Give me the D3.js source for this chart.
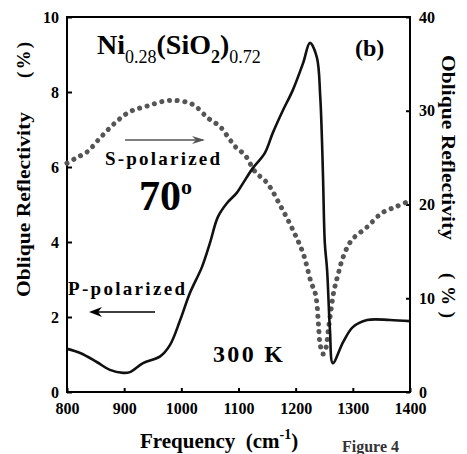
<!DOCTYPE html>
<html>
<head>
<meta charset="utf-8">
<script src="https://cdn.jsdelivr.net/npm/d3@7"></script>
<style>
  body { margin: 0; background: #fff; }
  svg text { font-family: "Liberation Serif", "DejaVu Serif", serif; font-weight: bold; }
</style>
</head>
<body>
<div id="chart"></div>
<script>
// P-polarized, left axis (%)
var pFreq = [800, 823, 852, 875, 898, 910, 933, 963, 980, 998, 1015, 1036, 1050, 1064, 1080, 1097, 1108, 1125, 1146, 1160, 1178, 1195, 1213, 1225, 1237, 1243, 1246, 1248, 1251, 1255, 1260, 1265, 1283, 1300, 1325, 1365, 1400];
var pVal  = [1.15, 1.04, 0.80, 0.59, 0.51, 0.53, 0.77, 0.95, 1.25, 1.92, 2.64, 3.33, 3.97, 4.67, 5.04, 5.31, 5.57, 5.97, 6.37, 6.91, 7.52, 8.05, 8.77, 9.31, 8.93, 7.87, 6.72, 5.65, 3.97, 3.25, 1.65, 0.77, 1.33, 1.73, 1.92, 1.92, 1.89];
// S-polarized, right axis (%)
var sFreq = [800, 817, 835, 858, 884, 910, 940, 980, 1019, 1047, 1068, 1085, 1097, 1111, 1129, 1150, 1173, 1195, 1213, 1227, 1234, 1237, 1240, 1243, 1248, 1253, 1257, 1262, 1267, 1274, 1283, 1298, 1325, 1351, 1377, 1400];
var sVal  = [24.4, 25.0, 25.6, 27.1, 28.7, 29.9, 30.5, 31.1, 30.7, 29.2, 28.3, 26.9, 26.0, 25.3, 23.5, 22.3, 19.9, 17.3, 14.8, 11.7, 10.6, 9.5, 7.1, 5.0, 4.05, 4.7, 6.6, 8.8, 10.8, 12.5, 14.4, 16.2, 17.6, 19.1, 19.8, 20.4];

var xTicks = [800, 900, 1000, 1100, 1200, 1300, 1400];
var yLeftTicks = [0, 2, 4, 6, 8, 10];
var yRightTicks = [0, 10, 20, 30, 40];

var W = 467, H = 454;
var margin = {top: 17, right: 57, bottom: 62, left: 67},
  width = W - margin.left - margin.right,
  height = H - margin.top - margin.bottom;

var svg = d3.select("#chart")
  .append("svg")
  .attr("width", W)
  .attr("height", H);

var g = svg.append("g")
  .attr("transform", "translate(" + margin.left + "," + margin.top + ")");

var x = d3.scaleLinear().domain([800, 1400]).range([0, width]);
var yL = d3.scaleLinear().domain([0, 10]).range([height, 0]);
var yR = d3.scaleLinear().domain([0, 40]).range([height, 0]);

var fmt = d3.format("d");

// axes (ticks pointing inward)
var xAxis = g.append("g")
  .attr("transform", "translate(0," + height + ")")
  .call(d3.axisBottom(x).tickValues(xTicks).tickFormat(fmt).tickSizeInner(-4).tickSizeOuter(0).tickPadding(11));
var lAxis = g.append("g")
  .call(d3.axisLeft(yL).tickValues(yLeftTicks).tickFormat(fmt).tickSizeInner(-5).tickSizeOuter(0).tickPadding(8));
var rAxis = g.append("g")
  .attr("transform", "translate(" + width + ",0)")
  .call(d3.axisRight(yR).tickValues(yRightTicks).tickFormat(fmt).tickSizeInner(-4).tickSizeOuter(0).tickPadding(9));

[xAxis, lAxis, rAxis].forEach(function(a) {
  a.attr("font-family", null).attr("font-size", null);
  a.select(".domain").remove();
  a.selectAll("line").attr("stroke", "#000").attr("stroke-width", 2);
  a.selectAll("text")
    .style("font-size", "16px")
    .attr("fill", "#000");
});

// frame
g.append("rect")
  .attr("x", 0).attr("y", 0)
  .attr("width", width).attr("height", height)
  .attr("fill", "none")
  .attr("stroke", "#000")
  .attr("stroke-width", 2);

// S-polarized dotted curve
var sLine = d3.line()
  .x(function(d) { return x(d[0]); })
  .y(function(d) { return yR(d[1]); })
  .curve(d3.curveCatmullRom.alpha(0.5));
g.append("path")
  .datum(d3.zip(sFreq, sVal))
  .attr("d", sLine)
  .attr("fill", "none")
  .attr("stroke", "#555")
  .attr("stroke-width", 5)
  .attr("stroke-linecap", "round")
  .attr("stroke-dasharray", "0.1,7.6");

// P-polarized solid curve
var pLine = d3.line()
  .x(function(d) { return x(d[0]); })
  .y(function(d) { return yL(d[1]); })
  .curve(d3.curveCatmullRom.alpha(0.5));
g.append("path")
  .datum(d3.zip(pFreq, pVal))
  .attr("d", pLine)
  .attr("fill", "none")
  .attr("stroke", "#111")
  .attr("stroke-width", 2.6)
  .attr("stroke-linejoin", "round");

// annotations
var title = svg.append("text").attr("x", 97).attr("y", 54).attr("font-size", 28).attr("fill", "#000");
title.append("tspan").text("Ni");
title.append("tspan").attr("dy", 9).attr("font-size", 18).style("font-weight", "normal").text("0.28");
title.append("tspan").attr("dy", -9).text("(SiO");
title.append("tspan").attr("dy", 9).attr("font-size", 18).text("2");
title.append("tspan").attr("dy", -9).text(")");
title.append("tspan").attr("dy", 9).attr("font-size", 18).style("font-weight", "normal").text("0.72");

svg.append("text").attr("x", 355).attr("y", 56).attr("font-size", 24).text("(b)");

// S arrow
svg.append("line").attr("x1", 125).attr("y1", 140).attr("x2", 203).attr("y2", 140)
  .attr("stroke", "#555").attr("stroke-width", 1.5);
svg.append("path").attr("d", "M205,140 L192,136 L196,140 L192,144 Z").attr("fill", "#555");
svg.append("text").attr("x", 105).attr("y", 165).attr("font-size", 19)
  .attr("textLength", 115).attr("lengthAdjust", "spacing").text("S-polarized");

var deg = svg.append("text").attr("x", 139).attr("y", 210).attr("font-size", 42);
deg.append("tspan").text("70");
deg.append("tspan").attr("dy", -16).attr("font-size", 22).text("o");

// P arrow
svg.append("line").attr("x1", 92).attr("y1", 312).attr("x2", 155).attr("y2", 312)
  .attr("stroke", "#000").attr("stroke-width", 1.5);
svg.append("path").attr("d", "M89,312 L102,307 L98,312 L102,317 Z").attr("fill", "#000");
svg.append("text").attr("x", 68).attr("y", 295).attr("font-size", 19)
  .attr("textLength", 117).attr("lengthAdjust", "spacing").text("P-polarized");

svg.append("text").attr("x", 213).attr("y", 362).attr("font-size", 24)
  .attr("textLength", 70).attr("lengthAdjust", "spacing").text("300 K");

// axis titles
var xl = svg.append("text").attr("x", 140).attr("y", 448).attr("font-size", 21);
xl.append("tspan").text("Frequency\u00a0\u00a0(cm");
xl.append("tspan").attr("dy", -9).attr("font-size", 14).text("-1");
xl.append("tspan").attr("dy", 9).text(")");

svg.append("text").attr("x", 342).attr("y", 452).attr("font-size", 16).attr("fill", "#333").text("Figure 4");

// left y title
svg.append("text").attr("transform", "translate(30,297) rotate(-90)").attr("font-size", 19)
  .attr("textLength", 185).attr("lengthAdjust", "spacingAndGlyphs").text("Oblique Reflectivity");
svg.append("text").attr("transform", "translate(30,78) rotate(-90)").attr("font-size", 19)
  .attr("textLength", 36).attr("lengthAdjust", "spacing").text("(%)");

// right y title
svg.append("text").attr("transform", "translate(442,55) rotate(90)").attr("font-size", 19)
  .attr("textLength", 185).attr("lengthAdjust", "spacingAndGlyphs").text("Oblique Reflectivity");
svg.append("text").attr("transform", "translate(442,273) rotate(90)").attr("font-size", 19)
  .attr("textLength", 45).attr("lengthAdjust", "spacing").text("(%)");
</script>
</body>
</html>
